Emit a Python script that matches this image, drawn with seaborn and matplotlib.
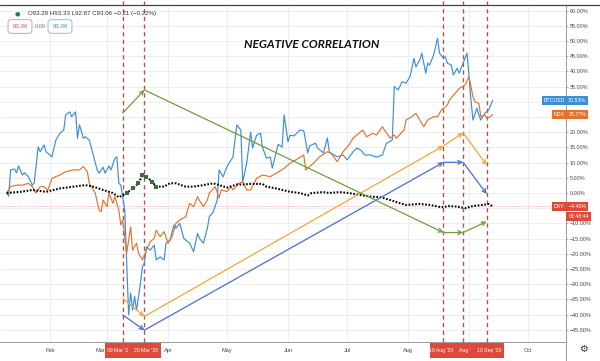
"""
BTC vs NDX vs DXY (% change, 2020) - negative correlation chart
"""

import pandas as pd
import numpy as np
import matplotlib
matplotlib.use("Agg")
import matplotlib.pyplot as plt
import matplotlib.dates as mdates
import matplotlib.transforms as mtransforms
from matplotlib.lines import Line2D
import seaborn as sns

# ---- data (day offsets from 1 Jan 2020, % change) ----
btc_days = [9, 10, 11, 13, 14, 15, 17, 18, 20, 22, 23, 25, 26, 28, 29, 32, 34, 36, 38, 39,
            41, 42, 44, 45, 46, 48, 49, 51, 53, 55, 56, 58, 59, 61, 62, 64, 65, 66, 67, 69,
            71, 72, 73, 74, 75, 77, 78, 79, 80, 82, 84, 85, 87, 89, 90, 92, 94, 95, 97, 99,
            100, 102, 104, 106, 107, 109, 111, 112, 114, 116, 117, 119, 121, 122, 124, 126, 128, 129, 131, 133,
            134, 136, 138, 139, 141, 143, 144, 147, 149, 150, 152, 153, 155, 157, 158, 160, 162, 163, 166, 167,
            170, 172, 173, 177, 180, 182, 185, 187, 189, 191, 194, 197, 200, 202, 205, 206, 208, 210, 212, 214,
            216, 217, 219, 220, 222, 223, 224, 226, 228, 229, 231, 232, 233, 235, 236, 238, 239, 241, 243, 244,
            245, 246, 248, 249, 250, 252, 254, 256]
btc_pct = [0, -1, 7.6, 7.9, 6.6, 8.9, 5.9, 6.7, 5.4, 2.6, 3.3, 15.2, 13.6, 15.8, 13.6, 11.9, 17.4, 19.6, 20.7, 25.7,
           26.7, 25.1, 26.7, 18, 22.4, 18, 18.5, 17.4, 12.5, 7.6, 6.5, 8.5, 6.5, 8.9, 7.6, 11.4, 11.9, 3.2, 2.6, -5.6,
           -40.1, -32.9, -38.5, -34, -38.5, -29.6, -24.2, -23.1, -17.7, -18.8, -17.1, -22, -21, -22, -16.5, -15.5, -10.5, -11.6, -10, -14.9,
           -15.5, -16.5, -19.3, -13.3, -14.9, -16.5, -11.6, -7.8, -6.2, -2.3, 7.6, 5.3, 8.7, 9.8, 11.8, 22.4, 20.7, 3.6, 9.9, 20,
           14.8, 19, 19.7, 15.1, 11.5, 11.8, 8.2, 16, 15.1, 25.7, 16.8, 19, 18.8, 20, 20.7, 20.5, 13.2, 15.5, 16.4, 14.8,
           13.2, 18.1, 13.5, 11.9, 12.5, 10.9, 13.5, 14.8, 14.1, 12.5, 12.5, 11.8, 12.5, 16.3, 17.4, 35, 33.9, 36.6, 36.1, 38.3,
           44.3, 41.5, 43.8, 46, 39.4, 42.7, 42.1, 45.4, 50.9, 46, 44.3, 44.8, 42.7, 42.1, 38.8, 41, 39.4, 42.7, 46, 38.3,
           30.6, 24, 27.9, 25.7, 24, 26.2, 27.3, 30.5]

ndx_days = [9, 11, 14, 17, 20, 22, 24, 26, 28, 30, 32, 34, 36, 39, 43, 46, 48, 50, 51, 54,
            56, 57, 58, 60, 61, 63, 64, 66, 67, 68, 70, 72, 73, 75, 76, 78, 80, 82, 84, 85,
            87, 89, 91, 93, 95, 97, 100, 102, 104, 106, 107, 109, 111, 112, 115, 117, 118, 121, 123, 124,
            127, 129, 131, 133, 136, 139, 143, 146, 150, 153, 156, 160, 161, 165, 168, 172, 174, 177, 180, 183,
            185, 187, 190, 192, 195, 197, 200, 201, 204, 206, 207, 211, 212, 215, 217, 219, 221, 223, 226, 228,
            230, 233, 234, 237, 239, 242, 244, 246, 247, 249, 250, 252, 253, 255, 256]
ndx_pct = [0, 2.1, 2.6, 2.6, 3.2, 2.1, 0, 2.1, 2.1, 1, 4.8, 5.4, 5.9, 7, 7.6, 7.6, 8.7, 7, 3.2, 0,
           -5.6, -6.2, -2.3, -4.5, 0, -3.4, -1.2, -5.6, -10.5, -8.9, -19.8, -11.1, -18.8, -16.5, -19.8, -22, -18.8, -16, -14.9, -12.2,
           -14.4, -12.7, -16.5, -14.4, -10, -8.9, -7.8, -3.4, -4.5, -1.2, -2.5, -4.5, -2.3, 0, 2.1, -1.7, 1, 0.5, 2.1, 1,
           3.2, 3.7, 1, 1, 4.8, 5.9, 5.4, 6.5, 8.1, 9.8, 10.9, 12.5, 7.6, 9.8, 11.9, 13.6, 13, 10.3, 13.6, 15.8,
           18, 19.1, 20.7, 18.5, 19.6, 19.1, 21.8, 20.7, 18, 19.1, 18, 20.7, 24, 25.1, 26.2, 24, 21.8, 24, 25.1, 25.1,
           27.3, 28.9, 30.6, 32.8, 34.4, 35.5, 38.3, 31.7, 30, 29.5, 25.1, 25.7, 24.6, 25.1, 25.8]

dxy_days = [9, 16, 22, 29, 36, 43, 49, 53, 58, 63, 66, 70, 73, 76, 78, 80, 83, 85, 89, 92,
            95, 100, 104, 109, 114, 117, 121, 126, 129, 133, 136, 139, 141, 146, 153, 158, 162, 164, 170, 173,
            178, 183, 189, 194, 199, 204, 208, 212, 219, 224, 230, 234, 238, 242, 246, 251, 254, 256]
dxy_pct = [0, 0.4, 1, 0.4, 1.5, 2.1, 2.6, 2.1, 1, 0, -1.4, 0, 1.5, 3.2, 5.9, 5.4, 3.7, 2.1, 2.1, 3.2,
           3.2, 2.1, 2.1, 2.6, 3.2, 2.6, 1.8, 2.8, 2.8, 3, 3, 3, 2.1, 1.5, 0.4, 0, -0.8, 0, 0.3, 0,
           0.3, 0, -0.7, -1.2, -1.4, -2.3, -3.2, -3.9, -3.6, -3.9, -4.7, -4.3, -4.5, -5, -4.3, -3.9, -3.6, -4.4]

# marked dates and the hand-drawn arrows between them
mark_dates = ["2020-03-09", "2020-03-20", "2020-08-19", "2020-08-29", "2020-09-10"]
# labels as they show on the time scale (some are partly covered by the next one)
mark_labels = ["09 Mar '2", "20 Mar '20", "19 Aug '20", "Aug '", "10 Sep '20"]
btc_arrow = [-40.1, -45.1, 10.1, 10.1, -0.3]
ndx_arrow = [-34.7, -40.6, 15.5, 19.8, 9.2]
dxy_arrow = [26.3, 33.9, -13.0, -13.0, -9.4]

# month labels; "Sep" sits fully under the date strip, "Mar" just left of it
month_starts = ["2020-02-01", "2020-03-01", "2020-04-01", "2020-05-01", "2020-06-01",
                "2020-07-01", "2020-08-01", "2020-10-01"]
month_names = ["Feb", "Mar", "Apr", "May", "Jun", "Jul", "Aug", "Oct"]
grid_months = ["2020-02-01", "2020-03-01", "2020-04-01", "2020-05-01", "2020-06-01",
               "2020-07-01", "2020-08-01", "2020-09-01", "2020-10-01"]
y_ticks = list(range(-45, 61, 5))
hidden_ticks = [30, 25, -5]   # covered by the price labels

last_btc, last_ndx, last_dxy = 30.53, 25.77, -4.40

# colours
C_BTC = "#3d8ed8"
C_NDX = "#e0742f"
C_RED = "#e0493a"
C_ARR_BLUE = "#4a6ed2"
C_ARR_ORANGE = "#f2a634"
C_ARR_GREEN = "#6f9c3c"
C_VLINE = "#b0503f"

sns.set_style("white")
plt.rcParams['font.family'] = ['Liberation Sans', 'DejaVu Sans']

t0 = pd.Timestamp("2020-01-01")
to_dt = lambda days: [t0 + pd.Timedelta(days=d) for d in days]

fig = plt.figure(figsize=(6, 3.61), dpi=100)
W, H = 600, 361
ax = fig.add_axes([0, (H - 342) / H, 566 / W, (342 - 5) / H])

sns.lineplot(x=to_dt(btc_days), y=btc_pct, ax=ax, color=C_BTC, linewidth=0.85, zorder=4)
sns.lineplot(x=to_dt(ndx_days), y=ndx_pct, ax=ax, color=C_NDX, linewidth=0.85, zorder=4)
sns.lineplot(x=to_dt(dxy_days), y=dxy_pct, ax=ax, color="black", linewidth=1.5,
             linestyle=(0, (0.8, 0.8)), zorder=5)
mar_mask = [(70 <= d <= 86) for d in dxy_days]
ax.scatter([t for t, m in zip(to_dt(dxy_days), mar_mask) if m],
           [v for v, m in zip(dxy_pct, mar_mask) if m],
           marker="s", s=5, color="#3e6b3e", zorder=6, linewidths=0)

ax.set_xlim(mdates.date2num(t0) + 5.6, mdates.date2num(t0) + 293.3)
ax.set_ylim(-49.0, 61.84)

# last-price line for DXY
ax.axhline(last_dxy, color="#e59a9a", linewidth=0.6, linestyle=(0, (1, 1.5)), zorder=2)

# vertical marker lines
mark_x = [mdates.date2num(pd.Timestamp(d)) for d in mark_dates]
for x in mark_x:
    ax.axvline(x, color=C_VLINE, linewidth=0.95, linestyle=(0, (3.2, 2.6)), zorder=3,
               clip_on=False, ymax=1.02)

# arrows
for vals, col in [(btc_arrow, C_ARR_BLUE), (ndx_arrow, C_ARR_ORANGE), (dxy_arrow, C_ARR_GREEN)]:
    for i in range(len(vals) - 1):
        ax.annotate("", xy=(mark_x[i + 1], vals[i + 1]), xytext=(mark_x[i], vals[i]),
                    arrowprops=dict(arrowstyle="->", color=col, lw=0.9, shrinkA=0, shrinkB=0,
                                    mutation_scale=7), zorder=6)

# axes styling
ax.set_xticks([mdates.date2num(pd.Timestamp(d)) for d in grid_months])
ax.set_xticklabels([])
ax.set_yticks(y_ticks)
ax.set_yticklabels(["" if v in hidden_ticks else f"{v:.2f}%".replace("-", "\u2212") for v in y_ticks])
ax.yaxis.tick_right()
ax.tick_params(axis="y", right=True, left=False, labelright=True, labelleft=False,
               length=1.5, width=0.5, color="#888888", pad=1, labelsize=3.9, labelcolor="#444444")
ax.tick_params(axis="x", length=0)
ax.grid(True, color="#ebebef", linewidth=0.6)
for s in ["left", "top"]:
    ax.spines[s].set_visible(False)
ax.spines["bottom"].set_color("#9a9a9a")
ax.spines["bottom"].set_linewidth(0.7)
ax.spines["right"].set_color("#9a9a9a")
ax.spines["right"].set_linewidth(0.7)

xblend = mtransforms.blended_transform_factory(ax.transData, ax.transAxes)
for d, name in zip(month_starts, month_names):
    xm = mdates.date2num(pd.Timestamp(d)) - (3.6 if name == "Mar" else 0)
    ax.text(xm, -0.024, name, transform=xblend, ha="center", va="center", fontsize=4,
            color="#444444", clip_on=False)

# right axis continues through the time scale, top border
fig.add_artist(Line2D([566 / W, 566 / W], [0, (H - 342) / H], color="#9a9a9a", lw=0.7))
fig.add_artist(Line2D([0, 1], [(H - 5) / H, (H - 5) / H], color="#444444", lw=0.9))

# price labels on the right scale
yblend = mtransforms.blended_transform_factory(ax.transAxes, ax.transData)
for name, val, col in [("BTCUSD", last_btc, C_BTC), ("NDX", last_ndx, C_NDX), ("DXY", last_dxy, C_RED)]:
    ax.text(0.998, val, name, transform=yblend, ha="right", va="center", fontsize=3.8,
            color="white", clip_on=False, zorder=10,
            bbox=dict(boxstyle="square,pad=0.35", fc=col, ec="none"))
    ax.text(1.004, val, f"{val:.2f}%".replace("-", "\u2212"), transform=yblend, ha="left",
            va="center", fontsize=3.8, color="white", clip_on=False, zorder=10,
            bbox=dict(boxstyle="square,pad=0.35", fc=col, ec="none"))
ax.text(1.004, last_dxy - 3.3, "01:48:44", transform=yblend, ha="left", va="center",
        fontsize=3.8, color="white", clip_on=False, zorder=10,
        bbox=dict(boxstyle="square,pad=0.35", fc=C_RED, ec="none"))

# date labels on the time scale: one red strip per group
for lo, hi, pad_l, pad_r in [(0, 1, 9.0, 8.2), (2, 4, 6.8, 8.8)]:
    ax.axvspan(mark_x[lo] - pad_l, mark_x[hi] + pad_r, ymin=-0.046, ymax=-0.002,
               color=C_RED, clip_on=False, zorder=9, lw=0)
label_shift = [-2.6, 0.6, -1.2, 1.0, 1.2]   # days, so the labels sit side by side
for i, lab in enumerate(mark_labels):
    ax.text(mark_x[i] + label_shift[i], -0.024, lab, transform=xblend, ha="center",
            va="center", fontsize=3.7, color="white", clip_on=False, zorder=11)

fig.text(583 / W, 1 - 349 / H, "\u2699", fontsize=7, color="#333333", ha="center", va="center",
         family="DejaVu Sans")

# title
fig.text(312 / W, 1 - 44 / H, "NEGATIVE CORRELATION", fontsize=8.6, fontweight="bold",
         fontstyle="italic", family="Lato", ha="center", va="center", color="#111111")

# legend / header
fig.text(17 / W, 1 - 14 / H, "\u25cf", fontsize=4.5, color="#26786e", ha="center", va="center",
         family="DejaVu Sans")
fig.text(28 / W, 1 - 14 / H, "O93.29 H93.33 L92.87 C93.06 \u22120.21 (\u22120.22%)", fontsize=4.4,
         color="#333333", ha="left", va="center")
fig.text(20 / W, 1 - 26.5 / H, "93.06", fontsize=4.4, color="#d05454", ha="center", va="center",
         bbox=dict(boxstyle="round,pad=0.7,rounding_size=0.5", fc="white", ec="#e08a8a", lw=0.6))
fig.text(40 / W, 1 - 26.5 / H, "0.00", fontsize=4.1, color="#777777", ha="center", va="center")
fig.text(60 / W, 1 - 26.5 / H, "93.06", fontsize=4.4, color=C_BTC, ha="center", va="center",
         bbox=dict(boxstyle="round,pad=0.7,rounding_size=0.5", fc="white", ec="#7fb3e6", lw=0.6))

plt.savefig("out.png", dpi=100)
plt.close()
